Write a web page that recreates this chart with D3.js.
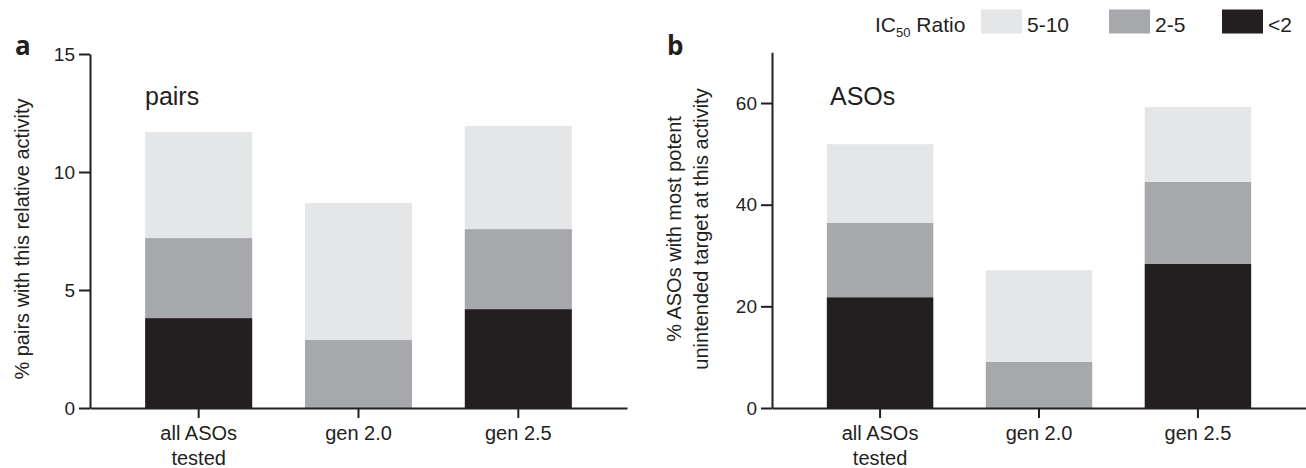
<!DOCTYPE html>
<html>
<head>
<meta charset="utf-8">
<script src="https://cdn.jsdelivr.net/npm/d3@7"></script>
<style>
  html, body { margin: 0; padding: 0; background: #fff; }
  svg { display: block; }
  text { font-family: "Liberation Sans", Arial, Helvetica, sans-serif; fill: #231f20; }
</style>
</head>
<body>
<svg id="chart" width="1306" height="468"></svg>
<script>
// ---- data ----
const categories = ["all ASOs|tested", "gen 2.0", "gen 2.5"];
const seriesKeys = ["lt2", "r2to5", "r5to10"];
const seriesLabels = ["<2", "2-5", "5-10"];
// panel a: % pairs with this relative activity
const pairsLt2   = [3.81, 0.0, 4.19];
const pairs2to5  = [3.39, 2.88, 3.39];
const pairs5to10 = [4.49, 5.81, 4.37];
// panel b: % ASOs with most potent unintended target at this activity
const asosLt2   = [21.8, 0.0, 28.4];
const asos2to5  = [14.6, 9.05, 16.1];
const asos5to10 = [15.5, 18.05, 14.7];
const ticksA = [0, 5, 10, 15];
const ticksB = [0, 20, 40, 60];

const colors = { lt2: "#231f20", r2to5: "#a7a8ab", r5to10: "#e5e6e8" };
const ink = "#231f20";

const svg = d3.select("#chart");

function buildRows(a, b, c) {
  return categories.map((cat, i) => ({ cat, lt2: a[i], r2to5: b[i], r5to10: c[i] }));
}

function panel(opts) {
  const rows = buildRows(opts.s1, opts.s2, opts.s3);
  const x = d3.scaleBand().domain(categories).range(opts.xRange)
    .paddingInner(0.33).paddingOuter(0.345);
  const y = d3.scaleLinear().domain(opts.yDomain).range([408, opts.yTop]);
  const stack = d3.stack().keys(seriesKeys)(rows);
  const g = svg.append("g");

  g.selectAll("g.layer").data(stack).join("g")
    .attr("fill", d => colors[d.key])
    .selectAll("rect").data(d => d).join("rect")
    .attr("x", d => x(d.data.cat))
    .attr("width", x.bandwidth())
    .attr("y", d => y(d[1]))
    .attr("height", d => y(d[0]) - y(d[1]));

  // y axis
  const ya = g.append("g").attr("transform", `translate(${opts.xRange[0]},0)`)
    .call(d3.axisLeft(y).tickValues(opts.ticks).tickSize(11).tickSizeOuter(0).tickPadding(4));
  ya.selectAll("path,line").attr("stroke", ink).attr("stroke-width", 2);
  ya.selectAll("text").attr("font-size", 19).attr("fill", ink)
    .style("font-family", '"Liberation Sans", Arial, sans-serif');

  // x axis
  const xa = g.append("g").attr("transform", "translate(0,408)")
    .call(d3.axisBottom(x).tickSize(10).tickSizeOuter(0).tickFormat(""));
  xa.selectAll("path,line").attr("stroke", ink).attr("stroke-width", 2);
  xa.selectAll(".tick").each(function(d) {
    const t = d3.select(this).append("text")
      .attr("text-anchor", "middle").attr("font-size", 20).attr("fill", ink)
      .style("font-family", '"Liberation Sans", Arial, sans-serif');
    d.split("|").forEach((line, i) => {
      t.append("tspan").attr("x", 0).attr("y", 32 + i * 25).text(line);
    });
  });

  // inner title
  g.append("text").attr("x", opts.titleX).attr("y", 105)
    .attr("font-size", 25).text(opts.title);

  // panel letter
  g.append("text").attr("x", opts.letterX).attr("y", 55)
    .attr("font-size", 26).attr("font-weight", "bold")
    .style("font-family", '"Open Sans", "DejaVu Sans", sans-serif')
    .text(opts.letter);

  // y label
  opts.yLabel.forEach((line, i) => {
    g.append("text")
      .attr("transform", `translate(${opts.yLabelX[i]},${opts.yLabelY}) rotate(-90)`)
      .attr("text-anchor", "middle").attr("font-size", 20).text(line);
  });
}

panel({
  s1: pairsLt2, s2: pairs2to5, s3: pairs5to10,
  xRange: [90, 627], yDomain: [0, 15], yTop: 54, ticks: ticksA,
  title: "pairs", titleX: 145, letter: "a", letterX: 15,
  yLabel: ["% pairs with this relative activity"], yLabelX: [29], yLabelY: 239
});

panel({
  s1: asosLt2, s2: asos2to5, s3: asos5to10,
  xRange: [772, 1306], yDomain: [0, 70], yTop: 52.2, ticks: ticksB,
  title: "ASOs", titleX: 830, letter: "b", letterX: 667,
  yLabel: ["% ASOs with most potent", "unintended target at this activity"],
  yLabelX: [681, 708], yLabelY: 229
});

// legend
const legend = svg.append("g");
const lt = legend.append("text").attr("x", 875).attr("y", 32).attr("font-size", 21);
lt.append("tspan").text("IC");
lt.append("tspan").attr("font-size", 13).attr("dy", 5).text("50");
lt.append("tspan").attr("dy", -5).text(" Ratio");

const legendItems = [
  { key: "r5to10", label: seriesLabels[2], x: 981 },
  { key: "r2to5", label: seriesLabels[1], x: 1109 },
  { key: "lt2", label: seriesLabels[0], x: 1222 }
];
legendItems.forEach(it => {
  legend.append("rect").attr("x", it.x).attr("y", 9.5).attr("width", 41).attr("height", 24)
    .attr("fill", colors[it.key]);
  legend.append("text").attr("x", it.x + 46).attr("y", 32).attr("font-size", 21).text(it.label);
});
</script>
</body>
</html>
